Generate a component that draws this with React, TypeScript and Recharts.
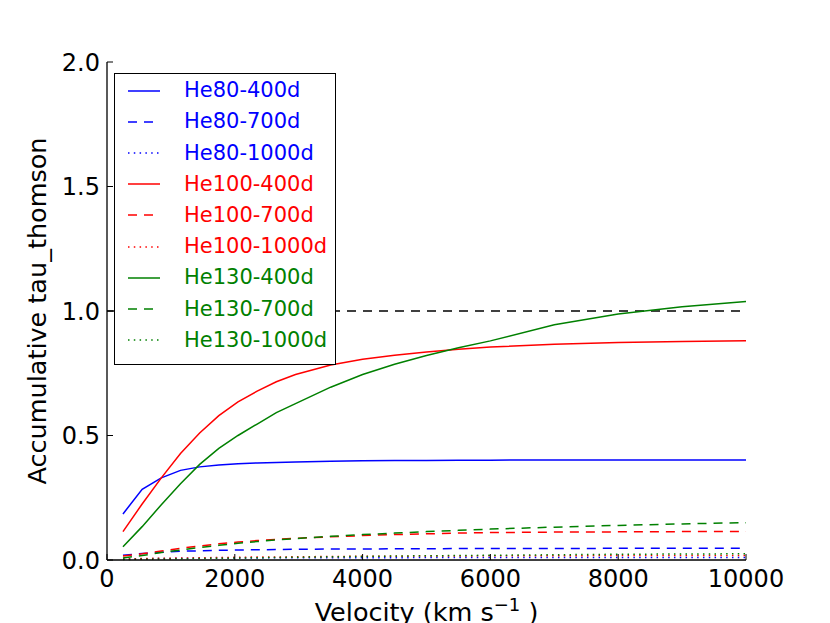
import React from 'react';
import { LineChart, Line, XAxis, YAxis, ReferenceLine, Legend } from 'recharts';

const FONT = '"DejaVu Sans", sans-serif';

// velocity grid (km/s)
const velocity = [250, 550, 850, 1150, 1450, 1750, 2050, 2350, 2650, 2950, 3500, 4000, 4500, 5000, 5500, 6000, 7000, 8000, 9000, 10000];

const he80_400d = [0.185, 0.284, 0.330, 0.360, 0.374, 0.382, 0.387, 0.390, 0.392, 0.394, 0.397, 0.399, 0.400, 0.400, 0.401, 0.401, 0.402, 0.402, 0.402, 0.402];
const he80_700d = [0.019, 0.026, 0.031, 0.035, 0.037, 0.039, 0.040, 0.041, 0.042, 0.043, 0.044, 0.044, 0.045, 0.045, 0.046, 0.046, 0.046, 0.047, 0.047, 0.047];
const he80_1000d = [0.004, 0.005, 0.006, 0.007, 0.007, 0.008, 0.008, 0.008, 0.009, 0.009, 0.009, 0.009, 0.009, 0.010, 0.010, 0.010, 0.010, 0.010, 0.010, 0.010];
const he100_400d = [0.114, 0.225, 0.330, 0.428, 0.510, 0.580, 0.635, 0.678, 0.716, 0.745, 0.783, 0.806, 0.822, 0.835, 0.846, 0.855, 0.866, 0.873, 0.878, 0.881];
const he100_700d = [0.016, 0.025, 0.036, 0.047, 0.056, 0.065, 0.072, 0.078, 0.083, 0.087, 0.093, 0.098, 0.102, 0.105, 0.108, 0.110, 0.112, 0.113, 0.114, 0.114];
const he100_1000d = [0.004, 0.006, 0.007, 0.008, 0.009, 0.010, 0.011, 0.012, 0.012, 0.013, 0.014, 0.015, 0.015, 0.016, 0.016, 0.017, 0.017, 0.018, 0.018, 0.018];
const he130_400d = [0.053, 0.134, 0.222, 0.306, 0.384, 0.448, 0.500, 0.546, 0.592, 0.628, 0.694, 0.745, 0.786, 0.821, 0.852, 0.880, 0.945, 0.988, 1.017, 1.038];
const he130_700d = [0.008, 0.018, 0.030, 0.040, 0.050, 0.059, 0.067, 0.074, 0.081, 0.086, 0.095, 0.102, 0.108, 0.114, 0.119, 0.124, 0.132, 0.139, 0.145, 0.150];
const he130_1000d = [0.002, 0.003, 0.004, 0.005, 0.006, 0.007, 0.008, 0.009, 0.010, 0.011, 0.013, 0.014, 0.016, 0.017, 0.018, 0.019, 0.021, 0.023, 0.024, 0.025];

const xTicks = [0, 2000, 4000, 6000, 8000, 10000];
const yTicks = [0, 0.5, 1.0, 1.5, 2.0];

const DASHED = '9 7';
const DOTTED = '1.5 4.3';

const series = [
  { key: 'he80_400d', name: 'He80-400d', color: '#0000ff', dash: undefined, values: he80_400d },
  { key: 'he80_700d', name: 'He80-700d', color: '#0000ff', dash: DASHED, values: he80_700d },
  { key: 'he80_1000d', name: 'He80-1000d', color: '#0000ff', dash: DOTTED, values: he80_1000d },
  { key: 'he100_400d', name: 'He100-400d', color: '#ff0000', dash: undefined, values: he100_400d },
  { key: 'he100_700d', name: 'He100-700d', color: '#ff0000', dash: DASHED, values: he100_700d },
  { key: 'he100_1000d', name: 'He100-1000d', color: '#ff0000', dash: DOTTED, values: he100_1000d },
  { key: 'he130_400d', name: 'He130-400d', color: '#008000', dash: undefined, values: he130_400d },
  { key: 'he130_700d', name: 'He130-700d', color: '#008000', dash: DASHED, values: he130_700d },
  { key: 'he130_1000d', name: 'He130-1000d', color: '#008000', dash: DOTTED, values: he130_1000d },
];

const data = velocity.map((v, i) => {
  const row: any = { v };
  series.forEach(s => { row[s.key] = s.values[i]; });
  return row;
});

const BottomTick = ({ x, y, payload }: any) => (
  <g>
    <line x1={x} x2={x} y1={y} y2={y - 6} stroke="#000" strokeWidth={1} />
    <text x={x} y={y + 27} textAnchor="middle" fontSize={24} fontFamily={FONT} fill="#000">
      {payload.value}
    </text>
  </g>
);

const LeftTick = ({ x, y, payload }: any) => (
  <g>
    <line x1={x} x2={x + 6} y1={y} y2={y} stroke="#000" strokeWidth={1} />
    <text x={x - 7} y={y + 8.5} textAnchor="end" fontSize={24} fontFamily={FONT} fill="#000">
      {Number(payload.value).toFixed(1)}
    </text>
  </g>
);

const TopTick = ({ x, y }: any) => (
  <line x1={x} x2={x} y1={y} y2={y + 6} stroke="#000" strokeWidth={1} />
);

const RightTick = ({ x, y }: any) => (
  <line x1={x} x2={x - 6} y1={y} y2={y} stroke="#000" strokeWidth={1} />
);

const XLabel = ({ viewBox }: any) => (
  <text
    x={viewBox.x + viewBox.width / 2}
    y={viewBox.y + 61}
    textAnchor="middle"
    fontSize={25.5}
    fontFamily={FONT}
    fill="#000"
  >
    Velocity (km s
    <tspan fontSize={18} dy={-10}>−1</tspan>
    <tspan dy={10}> )</tspan>
  </text>
);

const YLabel = ({ viewBox }: any) => {
  const cx = 45.5;
  const cy = viewBox.y + viewBox.height / 2;
  return (
    <text
      x={cx}
      y={cy}
      transform={`rotate(-90, ${cx}, ${cy})`}
      textAnchor="middle"
      fontSize={25.5}
      fontFamily={FONT}
      fill="#000"
    >
      Accumulative tau_thomson
    </text>
  );
};

const LegendBox = () => (
  <div
    style={{
      width: 222,
      height: 292,
      boxSizing: 'border-box',
      border: '1.3px solid #000',
      background: '#fff',
      paddingTop: 1.1,
    }}
  >
    {series.map(s => (
      <div key={s.key} style={{ height: 31.2, display: 'flex', alignItems: 'center' }}>
        <svg width={32} height={10} style={{ marginLeft: 13, display: 'block' }}>
          <line x1={0} x2={32} y1={5} y2={5} stroke={s.color} strokeWidth={1.5} strokeDasharray={s.dash} />
        </svg>
        <span
          style={{
            marginLeft: 24,
            color: s.color,
            fontSize: 21,
            fontFamily: FONT,
            lineHeight: 1,
            whiteSpace: 'nowrap',
          }}
        >
          {s.name}
        </span>
      </div>
    ))}
  </div>
);

const axisLine = { stroke: '#000', strokeWidth: 1.3 };

export default function App() {
  return (
    <div style={{ position: 'absolute', left: 0, top: 0, width: 830, height: 623, background: '#fff' }}>
      <LineChart width={830} height={623} data={data} margin={{ top: 62, right: 84, bottom: 0, left: 0 }}>
        <XAxis
          xAxisId="b"
          dataKey="v"
          type="number"
          domain={[0, 10000]}
          ticks={xTicks}
          interval={0}
          height={63}
          axisLine={axisLine}
          tickLine={false}
          tickSize={0}
          tickMargin={0}
          tick={<BottomTick />}
          label={{ content: (p: any) => <XLabel viewBox={p.viewBox} /> }}
        />
        <XAxis
          xAxisId="t"
          orientation="top"
          type="number"
          dataKey="v"
          domain={[0, 10000]}
          ticks={xTicks}
          interval={0}
          height={0}
          axisLine={axisLine}
          tickLine={false}
          tickSize={0}
          tickMargin={0}
          tick={<TopTick />}
        />
        <YAxis
          yAxisId="l"
          type="number"
          domain={[0, 2]}
          ticks={yTicks}
          interval={0}
          width={107}
          axisLine={axisLine}
          tickLine={false}
          tickSize={0}
          tickMargin={0}
          tick={<LeftTick />}
          label={{ content: (p: any) => <YLabel viewBox={p.viewBox} /> }}
        />
        <YAxis
          yAxisId="r"
          orientation="right"
          type="number"
          domain={[0, 2]}
          ticks={yTicks}
          interval={0}
          width={0}
          axisLine={axisLine}
          tickLine={false}
          tickSize={0}
          tickMargin={0}
          tick={<RightTick />}
        />
        <ReferenceLine xAxisId="b" yAxisId="l" y={1} stroke="#000" strokeWidth={1.5} strokeDasharray={DASHED} />
        {series.map(s => (
          <Line
            key={s.key}
            xAxisId="b"
            yAxisId="l"
            type="linear"
            dataKey={s.key}
            name={s.name}
            stroke={s.color}
            strokeWidth={1.5}
            strokeDasharray={s.dash}
            dot={false}
            activeDot={false}
            isAnimationActive={false}
          />
        ))}
        <Legend
          layout="horizontal"
          verticalAlign="middle"
          align="center"
          wrapperStyle={{ left: 114, top: 73, width: 222, height: 292 }}
          content={() => <LegendBox />}
        />
      </LineChart>
    </div>
  );
}
